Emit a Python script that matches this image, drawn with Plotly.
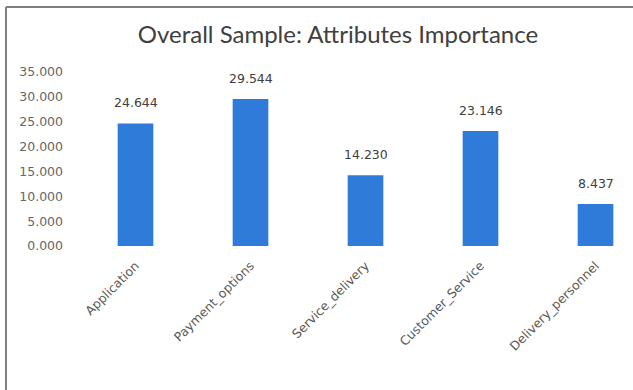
import plotly.graph_objects as go

categories = ["Application", "Payment_options", "Service_delivery", "Customer_Service", "Delivery_personnel"]
values = [24.644, 29.544, 14.230, 23.146, 8.437]
y_ticks = [0, 5, 10, 15, 20, 25, 30, 35]
y_tick_labels = ["0.000", "5.000", "10.000", "15.000", "20.000", "25.000", "30.000", "35.000"]

FONT = "Lato"
TFONT = "DejaVu Sans"
W, H = 633, 390
ML, MR, MT, MB = 78, 5, 72, 144
pw = W - ML - MR
ph = H - MT - MB

fig = go.Figure(go.Bar(
    x=list(range(len(categories))),
    y=values,
    marker=dict(color="#2E7BDA", line=dict(width=0)),
    width=0.31,
    hoverinfo="x+y",
))

for i, v in enumerate(values):
    fig.add_annotation(x=i, y=v, text=f"{v:.3f}", showarrow=False, yanchor="bottom",
                       yshift=11, font=dict(family=TFONT, size=12.5, color="#404040"))

fig.update_layout(
    width=W, height=H,
    margin=dict(l=ML, r=MR, t=MT, b=MB),
    paper_bgcolor="white", plot_bgcolor="white",
    showlegend=False,
    title=dict(text="Overall Sample: Attributes Importance", x=(338 - ML) / pw, xref="paper",
               xanchor="center", y=1 - 35 / H, yanchor="middle",
               font=dict(family=FONT, size=24, color="#404040")),
    xaxis=dict(tickvals=list(range(len(categories))), ticktext=categories, tickangle=-45,
               range=[-0.5, -0.5 + pw / 115.0], showgrid=False, zeroline=False, showline=False,
               ticks="", ticklabelstandoff=9, tickfont=dict(family=TFONT, size=12.5, color="#595959")),
    yaxis=dict(range=[0, 35], tickvals=y_ticks, ticktext=y_tick_labels, showgrid=False,
               zeroline=False, showline=False, ticks="", ticklabelstandoff=14,
               tickfont=dict(family=TFONT, size=12.5, color="#666666")),
    shapes=[
        dict(type="line", xref="paper", yref="paper",
             x0=(6 - ML) / pw, x1=(6 - ML) / pw, y0=(MT + ph - H) / ph, y1=(MT + ph - 7) / ph,
             line=dict(color="#7F7F7F", width=2)),
        dict(type="line", xref="paper", yref="paper",
             x0=(6 - ML) / pw, x1=(W - ML) / pw, y0=(MT + ph - 7) / ph, y1=(MT + ph - 7) / ph,
             line=dict(color="#7F7F7F", width=2)),
    ],
)

fig.write_html("out.html")
